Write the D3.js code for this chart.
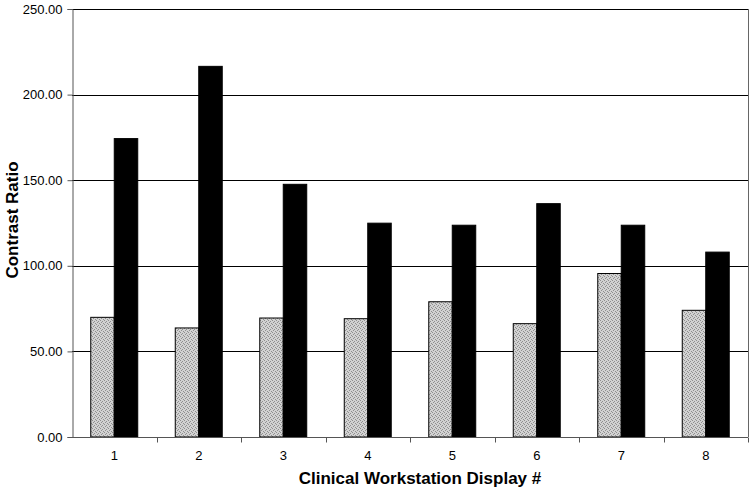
<!DOCTYPE html>
<html>
<head>
<meta charset="utf-8">
<script src="https://cdn.jsdelivr.net/npm/d3@7"></script>
<style>
  body { margin: 0; background: #fff; }
  text { font-family: "Liberation Sans", Arial, sans-serif; }
</style>
</head>
<body>
<div id="viz"></div>
<script>
// Chart values
var displays = ['1', '2', '3', '4', '5', '6', '7', '8'];
var series_gray = [69.9, 63.7, 69.5, 69.1, 79.0, 66.2, 95.5, 74.0];
var series_black = [174.3, 216.5, 147.6, 124.9, 123.7, 136.3, 123.7, 108.0];
var y_ticks = [0, 50, 100, 150, 200, 250];

var width = 750, height = 492;
var margin = {left: 72, right: 2, top: 9, bottom: 55};

var svg = d3.select('#viz').append('svg')
   .attr('width', width)
   .attr('height', height);

// dotted gray fill for the first series
var defs = svg.append('defs');
var pat = defs.append('pattern')
   .attr('id', 'dots')
   .attr('patternUnits', 'userSpaceOnUse')
   .attr('width', 4).attr('height', 4);
pat.append('rect').attr('width', 4).attr('height', 4).attr('fill', '#d2d2d2');
[[0, 0], [2, 1], [1, 2], [3, 3]].forEach(p => {
   pat.append('rect').attr('x', p[0]).attr('y', p[1])
      .attr('width', 1).attr('height', 1).attr('fill', '#8f8f8f');
});

var x = d3.scaleBand()
   .domain(displays)
   .range([margin.left, width - margin.right]);

var y = d3.scaleLinear()
   .domain([0, 250])
   .range([height - margin.bottom, margin.top]);

var barW = x.bandwidth() * 0.278;

// gridlines
svg.append('g')
   .selectAll('line')
   .data(y_ticks.filter(d => d > 0))
   .enter()
   .append('line')
   .attr('x1', margin.left).attr('x2', width - margin.right)
   .attr('y1', d => Math.round(y(d)) + 0.5).attr('y2', d => Math.round(y(d)) + 0.5)
   .style('stroke', '#000')
   .style('stroke-width', 1);

// right border
svg.append('line')
   .attr('x1', width - margin.right + 0.5).attr('x2', width - margin.right + 0.5)
   .attr('y1', y(250)).attr('y2', y(0))
   .style('stroke', '#666');

// bars
var groups = svg.append('g').selectAll('g')
   .data(displays)
   .enter()
   .append('g');

groups.append('rect')
   .attr('x', (d, i) => x(d) + x.bandwidth() / 2 - barW)
   .attr('y', (d, i) => y(series_gray[i]))
   .attr('width', barW)
   .attr('height', (d, i) => y(0) - y(series_gray[i]))
   .style('fill', 'url(#dots)')
   .style('stroke', '#000')
   .style('stroke-width', 1);

groups.append('rect')
   .attr('x', (d, i) => x(d) + x.bandwidth() / 2)
   .attr('y', (d, i) => y(series_black[i]))
   .attr('width', barW)
   .attr('height', (d, i) => y(0) - y(series_black[i]))
   .style('fill', '#000')
   .style('stroke', '#000')
   .style('stroke-width', 1);

// y axis
var yAxis = svg.append('g')
   .attr('transform', `translate(${margin.left + 0.5},0)`)
   .call(d3.axisLeft(y).tickValues(y_ticks).tickFormat(d3.format('.2f')).tickSize(5).tickPadding(5));
yAxis.select('.domain').style('stroke', '#555');
yAxis.selectAll('.tick line').style('stroke', '#555');
yAxis.selectAll('text').style('font-size', '13px').style('fill', '#000');

// x axis with ticks at category boundaries
var xAxis = svg.append('g')
   .attr('transform', `translate(0,${y(0) + 0.5})`);
xAxis.append('line')
   .attr('x1', margin.left).attr('x2', width - margin.right)
   .style('stroke', '#555');
xAxis.selectAll('.sep')
   .data(displays)
   .enter()
   .append('line')
   .attr('class', 'sep')
   .attr('x1', d => Math.round(x(d) + x.bandwidth()) + 0.5)
   .attr('x2', d => Math.round(x(d) + x.bandwidth()) + 0.5)
   .attr('y1', 0).attr('y2', 5)
   .style('stroke', '#555');
xAxis.selectAll('text')
   .data(displays)
   .enter()
   .append('text')
   .attr('x', d => x(d) + x.bandwidth() / 2)
   .attr('y', 22)
   .attr('text-anchor', 'middle')
   .style('font-size', '13px')
   .text(d => d);

// axis titles
svg.append('text')
   .attr('x', 420)
   .attr('y', 484)
   .attr('text-anchor', 'middle')
   .style('font-size', '17px')
   .style('font-weight', 'bold')
   .text('Clinical Workstation Display #');

svg.append('text')
   .attr('transform', 'translate(18, 220) rotate(-90)')
   .attr('text-anchor', 'middle')
   .style('font-size', '17px')
   .style('font-weight', 'bold')
   .text('Contrast Ratio');
</script>
</body>
</html>
